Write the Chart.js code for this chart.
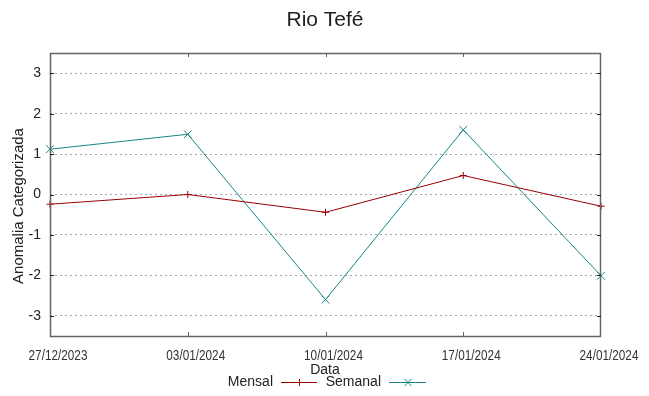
<!DOCTYPE html>
<html>
<head>
<meta charset="utf-8">
<script src="https://cdn.jsdelivr.net/npm/chart.js@4"></script>
<style>
  html, body { margin: 0; padding: 0; background: #fff; }
  #wrap { width: 649px; height: 396px; }
</style>
</head>
<body>
<div id="wrap"><canvas id="myChart" width="649" height="396"></canvas></div>
<script>
// data
const dates = ['27/12/2023', '03/01/2024', '10/01/2024', '17/01/2024', '24/01/2024'];
const mensal = [-0.24, 0.0, -0.44, 0.47, -0.29];
const semanal = [1.12, 1.49, -2.60, 1.60, -2.01];
const yTicks = [-3, -2, -1, 0, 1, 2, 3];

const redCol = '#990000';
const tealCol = '#168585';

// titles, legend, narrow date labels and inner tick marks, gnuplot style
const decor = {
    id: 'decor',
    afterDraw(chart) {
        const ctx = chart.ctx;
        const a = chart.chartArea;
        const ys = chart.scales.y;
        const xs = chart.scales.x;
        ctx.save();
        // frame
        ctx.strokeStyle = '#666';
        ctx.lineWidth = 1.5;
        ctx.strokeRect(a.left + 0.5, a.top + 0.5, a.right - a.left - 1, a.bottom - a.top);
        // inner ticks
        ctx.strokeStyle = '#222';
        ctx.lineWidth = 1;
        yTicks.forEach((v) => {
            let py = Math.round(ys.getPixelForValue(v)) + 0.5;
            ctx.beginPath();
            ctx.moveTo(a.left, py); ctx.lineTo(a.left + 4, py);
            ctx.moveTo(a.right - 4, py); ctx.lineTo(a.right, py);
            ctx.stroke();
        });
        ctx.strokeStyle = '#666';
        dates.forEach((d, i) => {
            let px = Math.round(xs.getPixelForValue(i)) + 0.5;
            px = Math.min(Math.max(px, a.left + 0.5), a.right - 0.5);
            ctx.beginPath();
            ctx.moveTo(px, a.top); ctx.lineTo(px, a.top + 4);
            ctx.moveTo(px, a.bottom); ctx.lineTo(px, a.bottom - 4);
            ctx.stroke();
        });
        ctx.fillStyle = '#222';
        ctx.textBaseline = 'middle';
        // date labels, narrow font look
        ctx.font = '14px "Liberation Sans", Arial, sans-serif';
        ctx.textAlign = 'center';
        ctx.fillStyle = '#333';
        dates.forEach((d, i) => {
            let px = xs.getPixelForValue(i) + 8;
            ctx.save();
            ctx.translate(px, 356);
            ctx.scale(0.84, 1);
            ctx.fillText(d, 0, 0);
            ctx.restore();
        });
        ctx.fillStyle = '#222';
        // main title
        ctx.font = '21px "Liberation Sans", Arial, sans-serif';
        ctx.fillText('Rio Tefé', 325, 20);
        // x title
        ctx.font = '14px "Liberation Sans", Arial, sans-serif';
        ctx.fillText('Data', 325, 370);
        // y title
        ctx.save();
        ctx.font = '15px "Liberation Sans", Arial, sans-serif';
        ctx.translate(19, 206);
        ctx.rotate(-Math.PI / 2);
        ctx.fillText('Anomalia Categorizada', 0, 0);
        ctx.restore();
        // legend
        ctx.textAlign = 'right';
        ctx.fillText('Mensal', 273, 382);
        ctx.fillText('Semanal', 381, 382);
        ctx.lineWidth = 1;
        ctx.strokeStyle = redCol;
        ctx.beginPath();
        ctx.moveTo(281, 382.5); ctx.lineTo(317, 382.5);
        ctx.moveTo(299.5, 379); ctx.lineTo(299.5, 386);
        ctx.stroke();
        ctx.strokeStyle = tealCol;
        ctx.beginPath();
        ctx.moveTo(389, 382.5); ctx.lineTo(426, 382.5);
        ctx.moveTo(404.5, 379); ctx.lineTo(411.5, 386);
        ctx.moveTo(411.5, 379); ctx.lineTo(404.5, 386);
        ctx.stroke();
        ctx.restore();
    }
};

const ctx = document.getElementById('myChart').getContext('2d');
const myChart = new Chart(ctx, {
    type: 'line',
    data: {
        labels: dates,
        datasets: [{
            label: 'Mensal',
            data: mensal,
            borderColor: redCol,
            backgroundColor: redCol,
            borderWidth: 1,
            pointStyle: 'cross',
            pointRadius: 3.5,
            pointBorderWidth: 1,
            tension: 0,
            clip: false
        }, {
            label: 'Semanal',
            data: semanal,
            borderColor: tealCol,
            backgroundColor: tealCol,
            borderWidth: 1,
            pointStyle: 'crossRot',
            pointRadius: 5.5,
            pointBorderWidth: 1,
            tension: 0,
            clip: false
        }]
    },
    options: {
        responsive: false,
        animation: false,
        devicePixelRatio: 1,
        layout: { padding: { top: 53, right: 48, bottom: 0, left: 0 } },
        plugins: {
            legend: { display: false },
            title: { display: false },
            tooltip: { enabled: false }
        },
        scales: {
            x: {
                type: 'category',
                offset: false,
                grid: { display: false, drawTicks: false },
                border: { display: false },
                ticks: { display: false },
                afterFit: (s) => { s.height = 60; }
            },
            y: {
                min: -3.5,
                max: 3.5,
                grid: {
                    drawTicks: false,
                    color: '#a8a8a8',
                    lineWidth: 1
                },
                border: { display: false, dash: [2, 3] },
                ticks: {
                    padding: 9,
                    color: '#222',
                    font: { family: '"Liberation Sans", Arial, sans-serif', size: 14 }
                },
                afterBuildTicks: (s) => { s.ticks = yTicks.map((v) => ({ value: v })); },
                afterFit: (s) => { s.width = 50; }
            }
        }
    },
    plugins: [decor]
});
</script>
</body>
</html>
